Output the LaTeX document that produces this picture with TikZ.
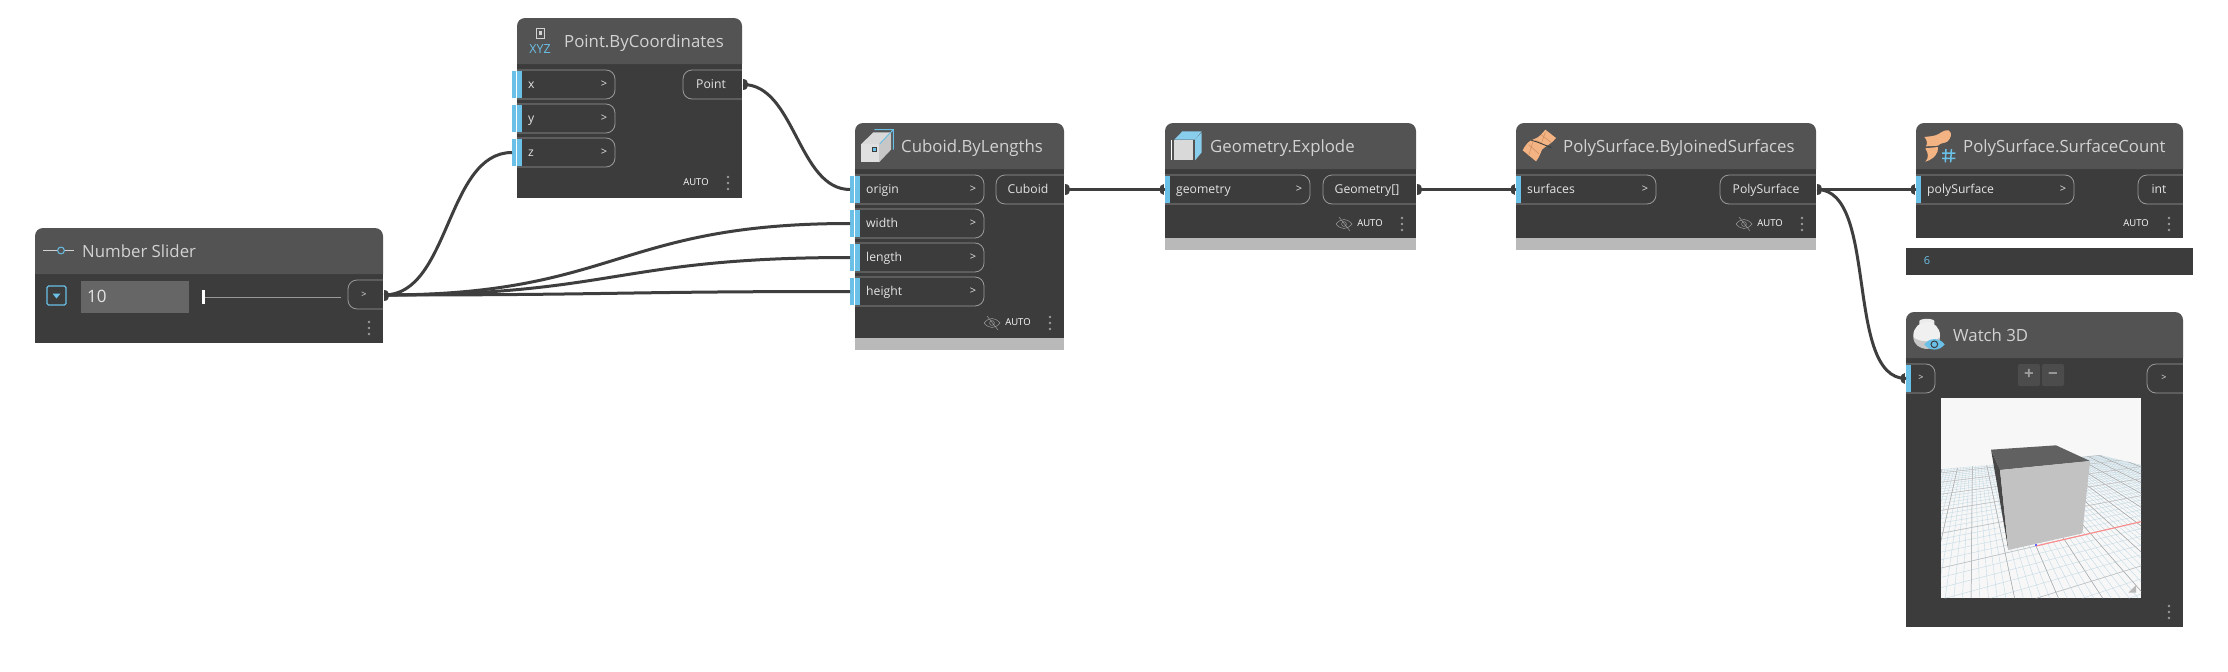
\documentclass[tikz,border=0pt]{standalone}
\usepackage{fontspec}
\setmainfont{Open Sans}
\definecolor{hdr}{HTML}{535353}
\definecolor{bodyc}{HTML}{3C3C3C}
\definecolor{greyb}{HTML}{B9B9B9}
\definecolor{portb}{HTML}{6AC0E7}
\definecolor{pillc}{HTML}{9A9A9A}
\definecolor{ttl}{HTML}{D2D2D2}
\definecolor{lbl}{HTML}{E4E4E4}
\definecolor{wirec}{HTML}{3E3E3E}
\definecolor{orng}{HTML}{F4B382}
\definecolor{orngd}{HTML}{C98E62}
\tikzset{
 ttlstyle/.style={text=ttl,anchor=mid west,inner sep=0pt,yshift=-3.5pt,font=\fontsize{16.8}{20}\selectfont},
 lblstyle/.style={text=lbl,anchor=mid west,inner sep=0pt,yshift=-1.5pt,font=\fontsize{12.2}{14}\selectfont},
 lblc/.style={text=lbl,anchor=mid,inner sep=0pt,yshift=-1.5pt,font=\fontsize{12.2}{14}\selectfont},
 chev/.style={text=lbl,anchor=mid,inner sep=0pt,yshift=-1pt,font=\fontsize{11}{14}\selectfont},
 autostyle/.style={text=white,anchor=mid,inner sep=0pt,font=\fontsize{9.5}{12}\selectfont},
 wire/.style={draw=wirec,line width=3pt},
 pill/.style={draw=pillc,line width=.8pt,rounded corners=9pt},
}
% name title x1 y1 x2 yh y2 titlex
\newcommand{\dynPanel}[8]{%
 \fill[bodyc] (#3,#6) rectangle (#5,#7);
 \fill[hdr,rounded corners=8pt] (#3,#6) -- (#3,#4) -- (#5,#4) -- (#5,#6);
 \node[ttlstyle] (#1) at (#8,{(#4+#6)/2}) {#2};
}
% name xleft ytop xright : pill and blue strip only
\newcommand{\dynInBase}[4]{%
 \draw[pill] (#2,#3) -- (#4,#3) -- (#4,#3+29) -- (#2,#3+29);
 \fill[portb] (#2,#3+1) rectangle (#2+5,#3+28);
 \coordinate (#1) at (#2,#3+14.5);
}
% name label xleft ytop xright
\newcommand{\dynIn}[5]{%
 \dynInBase{#1}{#3}{#4}{#5}
 \node[lblstyle] (#1l) at (#3+11,#4+14.5) {#2};
 \node[chev] (#1c) at (#5-11,#4+14) {>};
}
\newcommand{\dynInD}[5]{%
 \dynIn{#1}{#2}{#3}{#4}{#5}
 \fill[portb] (#3-5,#4+1) rectangle (#3-1,#4+28);
 \coordinate (#1) at (#3-5,#4+14.5);
}
% name label xleft ytop xright textcentre
\newcommand{\dynOut}[6]{%
 \draw[pill] (#5,#4) -- (#3,#4) -- (#3,#4+29) -- (#5,#4+29);
 \node[lblc] (#1l) at (#6,#4+14.5) {#2};
 \coordinate (#1) at (#5+1,#4+14.5);
}
\newcommand{\dynDotR}[1]{\fill[wirec] ([yshift=-5.5pt]#1) to[out=0,in=0,distance=6.5pt] ([yshift=5.5pt]#1) -- cycle;}
\newcommand{\dynDotL}[1]{\fill[wirec] ([xshift=-1pt,yshift=-5.5pt]#1) to[out=180,in=180,distance=6.5pt] ([xshift=-1pt,yshift=5.5pt]#1) -- cycle;}
\newcommand{\dynDots}[2]{\fill[pillc] (#1,#2-6) circle[radius=1.3pt] (#1,#2) circle[radius=1.3pt] (#1,#2+6) circle[radius=1.3pt];}
\newcommand{\dynEye}[2]{%
 \draw[pillc,line width=.5pt,shift={(#1,#2)}] (-8,0) .. controls (-3,-6) and (3,-6) .. (8,0) .. controls (3,6) and (-3,6) .. (-8,0) (0,0) circle[radius=2.4pt] (-5,-7) -- (6,7);
}
\begin{document}
\begin{tikzpicture}[x=1pt,y=-1pt]
\useasboundingbox (0,0) rectangle (2228,672);
\fill[white] (0,0) rectangle (2228,672);

% ---------- Number Slider
\dynPanel{slider}{Number Slider}{35}{228}{383}{274}{343}{82}
\draw[ttl,line width=.9pt] (43,250.5) -- (57,250.5) (65,250.5) -- (74,250.5);
\draw[portb,line width=1pt] (61,250.5) circle[radius=3.4pt];
\draw[portb,line width=1.3pt,rounded corners=1.5pt] (47,286) rectangle (66,305);
\fill[portb] (52.5,293.5) -- (60.5,293.5) -- (56.5,298.5) -- cycle;
\fill[fill=white!40!black] (81,281) rectangle (189,313);
\node[text=lbl,anchor=mid west,inner sep=0pt,yshift=-3.5pt,font=\fontsize{17}{20}\selectfont] (sval) at (87,296) {10};
\draw[white!60!black,line width=.8pt] (203,297) -- (341,297);
\fill[white] (201.5,290) rectangle (204.5,304);
\draw[pill] (383,280) -- (348,280) -- (348,309) -- (383,309);
\node[chev,font=\fontsize{9}{11}\selectfont] (sc) at (364,294) {>};
\coordinate (sout) at (384,295);
\dynDots{369}{328}

% ---------- Point.ByCoordinates
\dynPanel{point}{Point.ByCoordinates}{517}{18}{742}{64}{198}{564}
\draw[ttl,line width=.8pt] (536,28) rectangle (544.5,38);
\fill[ttl] (538.5,31) rectangle (542,35);
\node[text=portb,anchor=mid,inner sep=0pt,yshift=-1.5pt,font=\fontsize{12.5}{14}\selectfont] (xyz) at (540,49) {XYZ};
\dynInD{px}{x}{517}{70}{615}
\dynInD{py}{y}{517}{104}{615}
\dynInD{pz}{z}{517}{138}{615}
\dynOut{pout}{Point}{683}{70}{742}{711}
\node[autostyle] (pauto) at (696,183) {AUTO};
\dynDots{728}{183}

% ---------- Cuboid.ByLengths
\fill[greyb] (855,338) rectangle (1064,350);
\dynPanel{cub}{Cuboid.ByLengths}{855}{123}{1064}{169}{338}{901}
\begin{scope}[shift={(855,123)},scale=1/3]
 \fill[white!85!black] (18,64) -- (55,28) -- (108,28) -- (72,64) -- cycle;
 \fill[white!78!black] (72,64) -- (108,28) -- (108,80) -- (72,118) -- cycle;
 \fill[white!88!black] (18,64) -- (72,64) -- (72,118) -- (18,118) -- cycle;
 \draw[portb,line width=.9pt] (58,20) -- (115,20) -- (115,80) (115,20) -- (75,62);
 \fill[portb] (52,72) rectangle (64,84);
 \draw[bodyc,line width=.6pt] (52,72) rectangle (64,84);
\end{scope}
\dynInD{co}{origin}{855}{175}{984}
\dynInD{cw}{width}{855}{209}{984}
\dynInD{cl}{length}{855}{243}{984}
\dynInD{ch}{height}{855}{277}{984}
\dynOut{cout}{Cuboid}{996}{175}{1064}{1028}
\dynEye{992}{323}
\node[autostyle] (cauto) at (1018,323) {AUTO};
\dynDots{1050}{323}

% ---------- Geometry.Explode
\fill[greyb] (1165,238) rectangle (1416,250);
\dynPanel{geo}{Geometry.Explode}{1165}{123}{1416}{169}{238}{1210}
\begin{scope}[shift={(1165,123)},scale=1/3]
 \fill[portb!80!white] (28,50) -- (52,25) -- (110,25) -- (90,50) -- cycle;
 \fill[portb!80!white] (90,50) -- (110,28) -- (110,88) -- (90,112) -- cycle;
 \fill[white!85!black] (28,50) rectangle (85,110);
 \draw[white,line width=.8pt] (18,52) -- (18,110);
\end{scope}
\dynIn{gin}{geometry}{1165}{175}{1310}
\dynOut{gout}{Geometry[]}{1323}{175}{1416}{1367}
\dynEye{1344}{224}
\node[autostyle] (gauto) at (1370,224) {AUTO};
\dynDots{1402}{224}

% ---------- PolySurface.ByJoinedSurfaces
\fill[greyb] (1516,238) rectangle (1816,250);
\dynPanel{joi}{PolySurface.ByJoinedSurfaces}{1516}{123}{1816}{169}{238}{1563}
\begin{scope}[shift={(1516,123)},scale=1/3]
 \fill[orng] (20,82) .. controls (30,62) and (40,52) .. (55,48) .. controls (68,44) and (78,32) .. (88,20) -- (120,45) .. controls (108,62) and (90,68) .. (78,80) .. controls (72,95) and (68,105) .. (60,115) -- cycle;
 \draw[orngd,line width=.5pt] (75,35) -- (105,58) (58,52) -- (78,60) (38,65) -- (68,92) (88,28) -- (78,55) (50,58) -- (38,98);
 \draw[bodyc,line width=.9pt] (46,52) .. controls (65,56) and (85,66) .. (106,74);
\end{scope}
\dynIn{jin}{surfaces}{1516}{175}{1656}
\dynOut{jout}{PolySurface}{1720}{175}{1816}{1766}
\dynEye{1744}{224}
\node[autostyle] (jauto) at (1770,224) {AUTO};
\dynDots{1802}{224}

% ---------- PolySurface.SurfaceCount
\dynPanel{cnt}{PolySurface.SurfaceCount}{1916}{123}{2183}{169}{238}{1963}
\begin{scope}[shift={(1916,123)},scale=1/3]
 \fill[orng] (25,42) .. controls (40,40) and (55,40) .. (68,33) .. controls (78,26) and (88,20) .. (98,22) .. controls (110,30) and (105,45) .. (95,55) .. controls (85,62) and (75,58) .. (66,68) -- (30,70) .. controls (36,60) and (32,50) .. (25,42) -- cycle;
 \fill[orng] (28,76) -- (66,72) .. controls (68,90) and (55,108) .. (28,116) .. controls (40,105) and (36,88) .. (28,76) -- cycle;
 \draw[portb,line width=1.5pt] (90,78) -- (88,118) (106,78) -- (104,118) (78,90) -- (118,90) (78,106) -- (118,106);
\end{scope}
\dynIn{sin}{polySurface}{1916}{175}{2074}
\dynOut{iout}{int}{2138}{175}{2183}{2159}
\node[autostyle] (iauto) at (2136,224) {AUTO};
\dynDots{2169}{224}
\fill[bodyc] (1906,248) rectangle (2193,275);
\node[text=portb,anchor=mid,inner sep=0pt,yshift=-1pt,font=\fontsize{11}{13}\selectfont] (sixv) at (1927,261) {6};

% ---------- Watch 3D
\dynPanel{wat}{Watch 3D}{1906}{312}{2183}{358}{627}{1953}
\begin{scope}[shift={(1906,312)},scale=1/3]
 \fill[white!92!black] (40,28) .. controls (40,18) and (85,18) .. (85,28) -- (85,45) -- (40,45) -- cycle;
 \fill[white!94!black] (62,70) circle[radius=40];
 \fill[white!78!black] (22,76) .. controls (40,92) and (85,92) .. (102,76) .. controls (100,100) and (82,110) .. (62,110) .. controls (42,110) and (24,100) .. (22,76) -- cycle;
 \fill[portb] (55,97) .. controls (70,76) and (100,76) .. (116,97) .. controls (100,118) and (70,118) .. (55,97) -- cycle;
 \draw[bodyc,line width=1pt] (85,97) circle[radius=10];
\end{scope}
\dynInBase{win}{1906}{364}{1935}
\node[chev,font=\fontsize{9}{11}\selectfont] (winc) at (1921,377) {>};
\draw[pill] (2183,364) -- (2147,364) -- (2147,393) -- (2183,393);
\node[chev,font=\fontsize{9}{11}\selectfont] (wc) at (2164,377) {>};
\fill[white!30!black,rounded corners=2pt] (2018,364) rectangle (2040,386);
\fill[white!30!black,rounded corners=2pt] (2042,364) rectangle (2064,386);
\node[text=white!62!black,anchor=mid,inner sep=0pt,yshift=-2pt,font=\fontsize{17}{20}\bfseries\selectfont] (wplus) at (2029,375) {+};
\node[text=white!62!black,anchor=mid,inner sep=0pt,yshift=-2pt,font=\fontsize{17}{20}\bfseries\selectfont] (wminus) at (2053,375) {−};
\dynDots{2169}{612}
\begin{scope}[shift={(1880,300)},scale=1/3]
 \fill[white!97!black] (183,294) rectangle (783,894);
 \begin{scope}
  \clip (183,508) -- (660,465) -- (783,495) -- (783,894) -- (183,894) -- cycle;
  \foreach \i in {-25,...,70}{
    \pgfmathsetmacro{\uk}{\i*0.2*0.043}
    \pgfmathsetmacro{\px}{(468+\uk*2526)/(1+\uk)}
    \pgfmathsetmacro{\py}{(738+\uk*260)/(1+\uk)}
    \draw[portb!28!white!92!black,line width=.4pt] (279,299) -- ({279+4*(\px-279)},{299+4*(\py-299)});
  }
  \foreach \i in {-8,...,30}{
    \pgfmathsetmacro{\vm}{\i*0.2*0.24}
    \pgfmathsetmacro{\qx}{(468+\vm*279)/(1+\vm)}
    \pgfmathsetmacro{\qy}{(738+\vm*299)/(1+\vm)}
    \draw[portb!28!white!92!black,line width=.4pt] (2526,260) -- ({2526+1.5*(\qx-2526)},{260+1.5*(\qy-260)});
  }
  \foreach \i in {-5,...,14}{
    \pgfmathsetmacro{\uk}{\i*0.043}
    \pgfmathsetmacro{\px}{(468+\uk*2526)/(1+\uk)}
    \pgfmathsetmacro{\py}{(738+\uk*260)/(1+\uk)}
    \draw[white!66!black,line width=.5pt] (279,299) -- ({279+4*(\px-279)},{299+4*(\py-299)});
  }
  \foreach \i in {-1,...,6}{
    \pgfmathsetmacro{\vm}{\i*0.24}
    \pgfmathsetmacro{\qx}{(468+\vm*279)/(1+\vm)}
    \pgfmathsetmacro{\qy}{(738+\vm*299)/(1+\vm)}
    \draw[white!74!black,line width=.5pt] (2526,260) -- ({2526+1.5*(\qx-2526)},{260+1.5*(\qy-260)});
  }
 \end{scope}
 \draw[red!45!white,line width=1.1pt] (468,738) -- (783,665);
 \fill[blue!60!white] (466,733) rectangle (470,739);
 \fill[white!38!black] (333,449) -- (528,436) -- (630,483) -- (360,510) -- cycle;
 \fill[white!28!black] (333,449) -- (360,510) -- (385,750) -- cycle;
 \fill[white!76!black] (360,510) -- (630,483) -- (607,700) -- (385,750) -- cycle;
 \fill[white!72!black] (768,855) -- (768,878) -- (745,878) -- cycle;
\end{scope}

% ---------- Connectors
\draw[wire] (sout) to[out=0,in=180,distance=66pt] (pz);
\draw[wire] (sout) to[out=0,in=180,distance=233pt] (cw);
\draw[wire] (sout) to[out=0,in=180,distance=233pt] (cl);
\draw[wire] (sout) to[out=0,in=180,distance=233pt] (ch);
\draw[wire] (pout) to[out=0,in=180,distance=52pt] (co);
\draw[wire] (cout) -- (gin);
\draw[wire] (gout) -- (jin);
\draw[wire] (jout) -- (sin);
\draw[wire] (jout) to[out=0,in=180,distance=62pt] (win);
\dynDotR{sout}
\dynDotR{pout}
\dynDotR{cout}
\dynDotR{gout}
\dynDotR{jout}
\dynDotL{gin}
\dynDotL{jin}
\dynDotL{sin}
\dynDotL{win}
\end{tikzpicture}
\end{document}
